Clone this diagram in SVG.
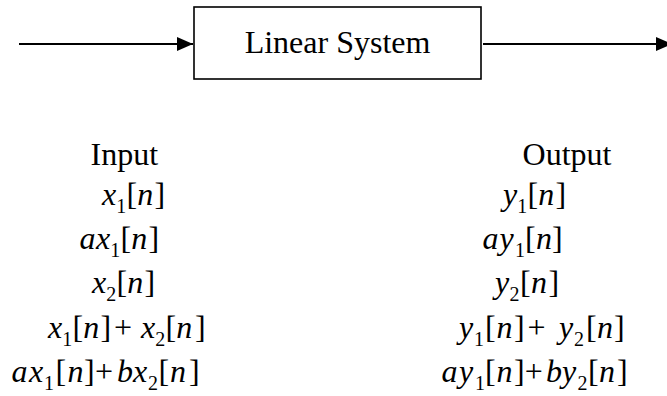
<svg xmlns="http://www.w3.org/2000/svg" width="667" height="396" viewBox="0 0 667 396">
<style>
.t{font-family:"Liberation Serif","Times New Roman",serif;font-size:32px;fill:#000}
.i{font-style:italic}
.s{font-size:20px}
.ln{stroke:#000;stroke-width:2;fill:none}
</style>
<defs>
<marker id="ah" markerWidth="16" markerHeight="14" refX="16" refY="7" orient="auto" markerUnits="userSpaceOnUse">
<path d="M0,0 L16,7 L0,14 Z" fill="#000"/>
</marker>
</defs>
<rect width="667" height="396" fill="#fff"/>
<g id="connectors">
<line class="ln" x1="19" y1="44" x2="193" y2="44" marker-end="url(#ah)"/>
<line class="ln" x1="483" y1="44" x2="672" y2="44" marker-end="url(#ah)"/>
</g>
<g id="system">
<rect x="194" y="7" width="287" height="72" fill="#fff" stroke="#000" stroke-width="1.6"/>
<text class="t" x="337.5" y="53" text-anchor="middle">Linear System</text>
</g>
<g id="input">
<text class="t" x="124.3" y="165" text-anchor="middle">Input</text>
<text class="t" y="205"><tspan class="i" x="102">x</tspan><tspan class="s" x="116.3" y="213">1</tspan><tspan x="126.4" y="205">[</tspan><tspan class="i" x="137.2">n</tspan><tspan x="154.5">]</tspan></text>
<text class="t" y="249"><tspan class="i" x="79.5">a</tspan><tspan class="i" x="96">x</tspan><tspan class="s" x="110.3" y="257">1</tspan><tspan x="120.4" y="249">[</tspan><tspan class="i" x="131.2">n</tspan><tspan x="148.5">]</tspan></text>
<text class="t" y="293"><tspan class="i" x="92">x</tspan><tspan class="s" x="106.3" y="301">2</tspan><tspan x="116.4" y="293">[</tspan><tspan class="i" x="127.2">n</tspan><tspan x="144.5">]</tspan></text>
<text class="t" y="338"><tspan class="i" x="48">x</tspan><tspan class="s" x="62.3" y="346">1</tspan><tspan x="72.4" y="338">[</tspan><tspan class="i" x="83.2">n</tspan><tspan x="100.5">]</tspan><tspan x="114">+</tspan><tspan class="i" x="141">x</tspan><tspan class="s" x="155.3" y="346">2</tspan><tspan x="165.4" y="338">[</tspan><tspan class="i" x="176.2">n</tspan><tspan x="195">]</tspan></text>
<text class="t" y="382"><tspan class="i" x="11.5">a</tspan><tspan class="i" x="29">x</tspan><tspan class="s" x="44" y="390">1</tspan><tspan x="55.5" y="382">[</tspan><tspan class="i" x="67.5">n</tspan><tspan x="84">]</tspan><tspan x="95">+</tspan><tspan class="i" x="117">b</tspan><tspan class="i" x="133">x</tspan><tspan class="s" x="148" y="390">2</tspan><tspan x="158.5" y="382">[</tspan><tspan class="i" x="170">n</tspan><tspan x="189">]</tspan></text>
</g>
<g id="output">
<text class="t" x="567" y="165" text-anchor="middle">Output</text>
<text class="t" y="205"><tspan class="i" x="503">y</tspan><tspan class="s" x="517.3" y="213">1</tspan><tspan x="527.4" y="205">[</tspan><tspan class="i" x="538.2">n</tspan><tspan x="555.5">]</tspan></text>
<text class="t" y="249"><tspan class="i" x="482.5">a</tspan><tspan class="i" x="499.5">y</tspan><tspan class="s" x="515" y="257">1</tspan><tspan x="525" y="249">[</tspan><tspan class="i" x="536">n</tspan><tspan x="552">]</tspan></text>
<text class="t" y="293"><tspan class="i" x="495">y</tspan><tspan class="s" x="509.5" y="301">2</tspan><tspan x="520" y="293">[</tspan><tspan class="i" x="531">n</tspan><tspan x="548.5">]</tspan></text>
<text class="t" y="338"><tspan class="i" x="459">y</tspan><tspan class="s" x="474" y="346">1</tspan><tspan x="485" y="338">[</tspan><tspan class="i" x="496.5">n</tspan><tspan x="514">]</tspan><tspan x="527.5">+</tspan><tspan class="i" x="559">y</tspan><tspan class="s" x="574" y="346">2</tspan><tspan x="586" y="338">[</tspan><tspan class="i" x="597">n</tspan><tspan x="614">]</tspan></text>
<text class="t" y="382"><tspan class="i" x="441.5">a</tspan><tspan class="i" x="459">y</tspan><tspan class="s" x="475" y="390">1</tspan><tspan x="485" y="382">[</tspan><tspan class="i" x="496.5">n</tspan><tspan x="514">]</tspan><tspan x="524.8">+</tspan><tspan class="i" x="546">b</tspan><tspan class="i" x="562">y</tspan><tspan class="s" x="577.5" y="390">2</tspan><tspan x="588" y="382">[</tspan><tspan class="i" x="599">n</tspan><tspan x="617">]</tspan></text>
</g>
</svg>
